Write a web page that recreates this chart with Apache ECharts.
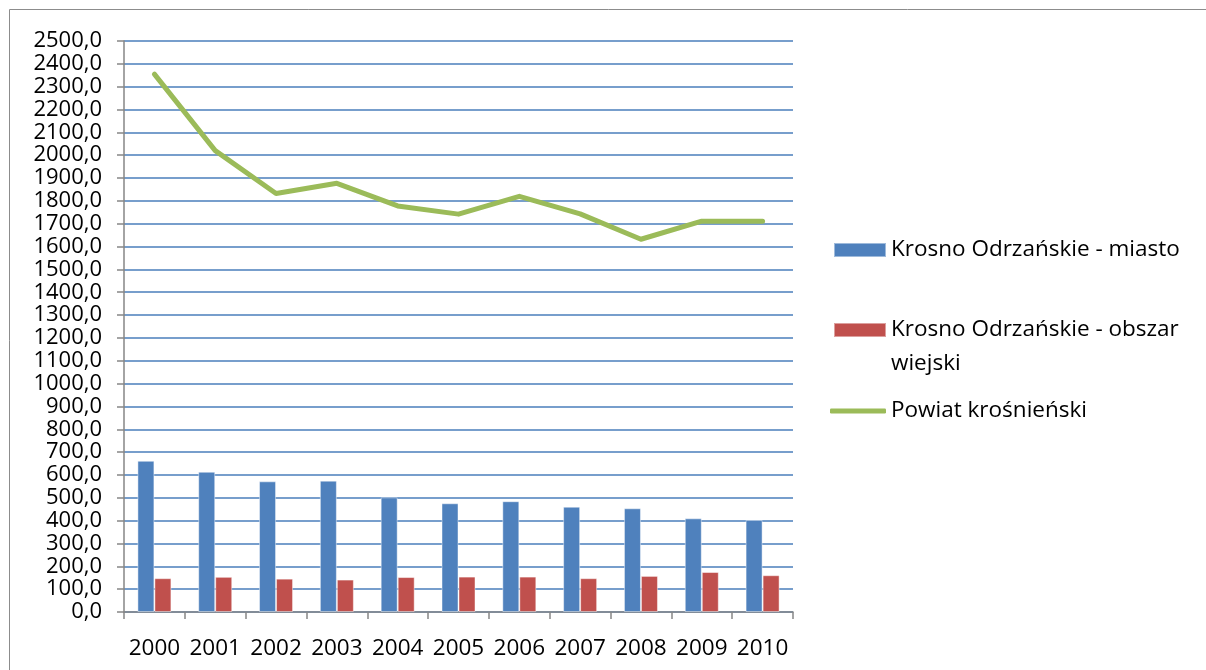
<!DOCTYPE html>
<html>
<head>
<meta charset="utf-8">
<script src="https://cdn.jsdelivr.net/npm/echarts@6/dist/echarts.min.js"></script>
<style>
html,body{margin:0;padding:0;background:#fff;}
#chart{width:1206px;height:670px;}
</style>
</head>
<body>
<div id="chart"></div>
<script>
const years=['2000','2001','2002','2003','2004','2005','2006','2007','2008','2009','2010'];
const miasto=[662,614,572,575,502,476,485,461,454,410,403];
const wiejski=[148,154,146,142,153,155,155,148,158,175,161];
const powiat=[2355,2020,1832,1877,1778,1742,1820,1743,1632,1711,1711];
const names=['Krosno Odrzańskie - miasto','Krosno Odrzańskie - obszar wiejski','Powiat krośnieński'];

const chart=echarts.init(document.getElementById('chart'));
const font='"Open Sans", "DejaVu Sans", sans-serif';
const legendText={fontFamily:font,fontSize:22.5,color:'#000',lineHeight:30};

// wspolne ustawienia legendy
function leg(name,top,extra){
  return Object.assign({data:[name],left:833,top:top,padding:0,orient:'vertical',
    itemWidth:52,itemHeight:14,itemGap:0,textStyle:legendText,icon:'rect'},extra||{});
}

chart.setOption({
  animation:false,
  graphic:[{
    type:'rect',
    shape:{x:9.5,y:9.5,width:1210,height:680},
    style:{fill:'none',stroke:'#8c8c8c',lineWidth:1},
    silent:true
  },{
    type:'text',
    left:891,top:352,
    style:{text:'wiejski',font:'22.5px "Open Sans", sans-serif',fill:'#000'},
    silent:true
  }],
  grid:{left:124,right:413,top:41,bottom:58},
  legend:[
    leg(names[0],235),
    leg(names[1],315,{formatter:()=>'Krosno Odrzańskie - obszar'}),
    leg(names[2],396,{left:830,icon:'roundRect',itemWidth:56,itemHeight:5})
  ],
  xAxis:{
    type:'category',
    data:years,
    axisLine:{lineStyle:{color:'#868686',width:1.5}},
    axisTick:{show:true,length:7,lineStyle:{color:'#868686',width:1.5}},
    axisLabel:{fontFamily:font,fontSize:22.5,color:'#000',margin:25,interval:0}
  },
  yAxis:{
    type:'value',
    min:0,max:2500,interval:100,
    axisLine:{show:true,lineStyle:{color:'#868686',width:1.5}},
    axisTick:{show:true,length:7,lineStyle:{color:'#868686',width:1.5}},
    axisLabel:{fontFamily:font,fontSize:22,color:'#000',margin:22,
      formatter:v=>v.toFixed(1).replace('.',',')},
    splitLine:{lineStyle:{color:'#4a7ebb',width:1.6}}
  },
  series:[
    {name:names[0],type:'bar',data:miasto,barWidth:17,barGap:'0%',
      itemStyle:{color:'#4f81bd',borderColor:'rgba(255,255,255,0.45)',borderWidth:1}},
    {name:names[1],type:'bar',data:wiejski,barWidth:17,
      itemStyle:{color:'#c0504d',borderColor:'rgba(255,255,255,0.45)',borderWidth:1}},
    {name:names[2],type:'line',data:powiat,symbol:'none',
      lineStyle:{color:'#9bbb59',width:5,cap:'round',join:'round'},itemStyle:{color:'#9bbb59'}}
  ]
});
</script>
</body>
</html>
